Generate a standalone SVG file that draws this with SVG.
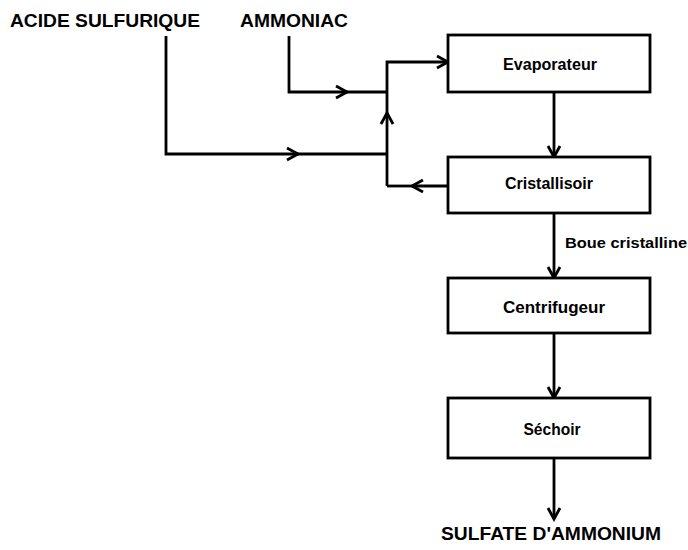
<svg xmlns="http://www.w3.org/2000/svg" width="688" height="550" viewBox="0 0 688 550">
<style>
.box{fill:#fff;stroke:#000;stroke-width:2.8}
.ln{fill:none;stroke:#000;stroke-width:2.8}
.lbl{font-family:"Liberation Sans",Arial,sans-serif;font-weight:bold;fill:#000}
.big{font-size:18px}
.mid{font-size:16px;text-anchor:middle}
.sm{font-size:15px}
</style>
<defs>
<marker id="ah" markerUnits="userSpaceOnUse" markerWidth="16" markerHeight="16" refX="12" refY="6.5" orient="auto" overflow="visible">
<path d="M1,0.5 L12,6.5 L1,12.5" fill="none" stroke="#000" stroke-width="2.8"/>
</marker>
</defs>
<rect width="688" height="550" fill="#fff"/>
<g id="labels">
<text class="lbl big" x="10" y="27" textLength="190" lengthAdjust="spacingAndGlyphs">ACIDE SULFURIQUE</text>
<text class="lbl big" x="240" y="27" textLength="108" lengthAdjust="spacingAndGlyphs">AMMONIAC</text>
<text class="lbl big" x="441" y="540" textLength="220" lengthAdjust="spacingAndGlyphs">SULFATE D'AMMONIUM</text>
<text class="lbl sm" x="565" y="248" textLength="122" lengthAdjust="spacingAndGlyphs">Boue cristalline</text>
</g>
<g id="connectors">
<path class="ln" d="M166,36 V154 H298" marker-end="url(#ah)"/>
<path class="ln" d="M296,154 H387"/>
<path class="ln" d="M289,36 V92 H347" marker-end="url(#ah)"/>
<path class="ln" d="M345,92 H387"/>
<path class="ln" d="M387,186 V113" marker-end="url(#ah)"/>
<path class="ln" d="M387,115 V62 H448" marker-end="url(#ah)"/>
<path class="ln" d="M448,186 H412" marker-end="url(#ah)"/>
<path class="ln" d="M414,186 H387"/>
<path class="ln" d="M554,92 V157" marker-end="url(#ah)"/>
<path class="ln" d="M554,213 V278" marker-end="url(#ah)"/>
<path class="ln" d="M554,333 V398" marker-end="url(#ah)"/>
<path class="ln" d="M554,458 V519" marker-end="url(#ah)"/>
</g>
<g id="evaporateur">
<rect class="box" x="448" y="35" width="202" height="57"/>
<text class="lbl mid" x="550" y="70" textLength="94" lengthAdjust="spacingAndGlyphs">Evaporateur</text>
</g>
<g id="cristallisoir">
<rect class="box" x="448" y="157" width="202" height="56"/>
<text class="lbl mid" x="549" y="189" textLength="88" lengthAdjust="spacingAndGlyphs">Cristallisoir</text>
</g>
<g id="centrifugeur">
<rect class="box" x="448" y="278" width="202" height="55"/>
<text class="lbl mid" x="554" y="313" textLength="102" lengthAdjust="spacingAndGlyphs">Centrifugeur</text>
</g>
<g id="sechoir">
<rect class="box" x="448" y="398" width="202" height="60"/>
<text class="lbl mid" x="552" y="435" textLength="57" lengthAdjust="spacingAndGlyphs">Séchoir</text>
</g>
</svg>
